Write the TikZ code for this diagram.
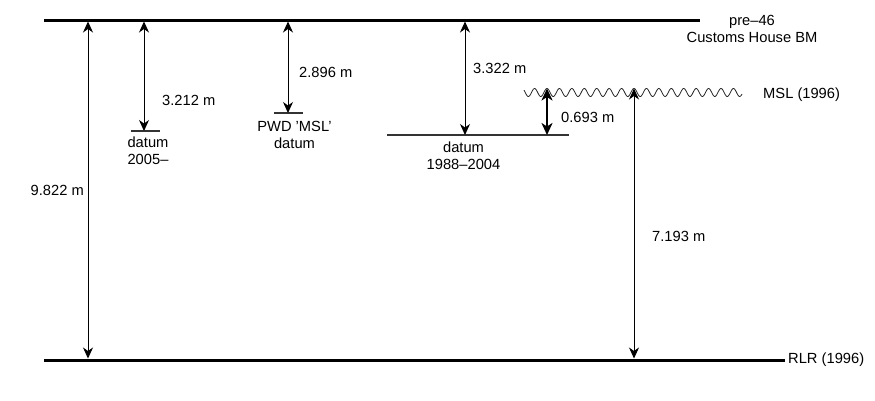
\documentclass[tikz,border=0pt]{standalone}
\usepackage{fontspec}
\setmainfont{Liberation Sans}
\usetikzlibrary{arrows.meta}
\tikzset{
  level/.style={line width=3pt},
  datumline/.style={line width=1.1pt, black!80},
  tipthin/.tip={Stealth[length=11pt,width=10pt,inset=3.5pt]},
  tipthick/.tip={Stealth[length=12pt,width=11pt,inset=3.5pt]},
  dim/.style={line width=1pt, tipthin-tipthin},
  dimthick/.style={line width=2pt, tipthick-tipthick},
  lbl/.style={inner sep=0pt, font=\fontsize{14.7}{17}\selectfont},
  lblc/.style={lbl, align=center},
}
\begin{document}
\begin{tikzpicture}[x=1pt,y=-1pt]
\useasboundingbox (0,0) rectangle (875,400);
% levels
\coordinate (topL) at (44,20);
\coordinate (topR) at (700,20);
\coordinate (botL) at (44,360);
\coordinate (botR) at (785,360);
\draw[level] (topL) -- (topR);
\draw[level] (botL) -- (botR);
% datum lines
\coordinate (d05L) at (131,131); \coordinate (d05R) at (160,131);
\coordinate (pwdL) at (274,113); \coordinate (pwdR) at (303,113);
\coordinate (d88L) at (387,135); \coordinate (d88R) at (569,135);
\draw[datumline] (d05L) -- (d05R);
\draw[datumline] (pwdL) -- (pwdR);
\draw[datumline] (d88L) -- (d88R);
% MSL wave
\draw[line width=0.8pt, black!85] plot[domain=524:742, samples=400, smooth] (\x, {92.5 - 4*cos((\x-547)/12.43*360)});
% arrow end points
\coordinate (a1t) at (88,21.5);  \coordinate (a1b) at (88,358.5);
\coordinate (a2t) at (144,21.5); \coordinate (a2b) at (144,131);
\coordinate (a3t) at (288,21.5); \coordinate (a3b) at (288,113);
\coordinate (a4t) at (465,21.5); \coordinate (a4b) at (465,135);
\coordinate (a5t) at (547,88.5); \coordinate (a5b) at (547,135);
\coordinate (a6t) at (634,88.5); \coordinate (a6b) at (634,358.5);
\draw[dim] (a1t) -- (a1b);
\draw[dim] (a2t) -- (a2b);
\draw[dim] (a3t) -- (a3b);
\draw[dim] (a4t) -- (a4b);
\draw[dimthick] (a5t) -- (a5b);
\draw[dim] (a6t) -- (a6b);
% labels
\node[lbl, anchor=east] (l1) at (84,190) {9.822 m};
\node[lbl, anchor=west] (l2) at (162,100) {3.212 m};
\node[lbl, anchor=west] (l3) at (299,72) {2.896 m};
\node[lbl, anchor=west] (l4) at (473,68) {3.322 m};
\node[lbl, anchor=west] (l5) at (561,117) {0.693 m};
\node[lbl, anchor=west] (l6) at (652,236) {7.193 m};
\node[lblc] (n05) at (148,150.5) {datum\\2005–};
\node[lblc] (npwd) at (294.5,134.5) {PWD \symbol{"27}MSL\symbol{"27}\\datum};
\node[lblc] (n88) at (463.5,155.5) {datum\\1988–2004};
\node[lblc] (ncust) at (752,29) {pre–46\\Customs House BM};
\node[lbl, anchor=west] (nmsl) at (763,95) {MSL (1996)};
\node[lbl, anchor=west] (nrlr) at (788,360) {RLR (1996)};
\end{tikzpicture}
\end{document}
